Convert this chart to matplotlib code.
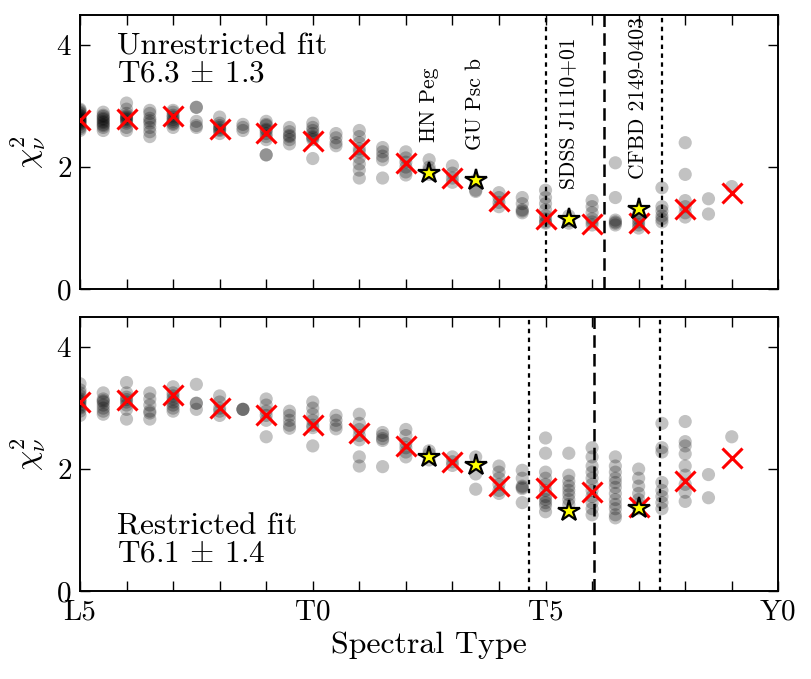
import numpy as np
import matplotlib
matplotlib.use("Agg")
import matplotlib.pyplot as plt
from matplotlib.ticker import MultipleLocator, FuncFormatter

plt.rcParams['font.family'] = 'serif'
plt.rcParams['font.serif'] = ['cmr10']
plt.rcParams['mathtext.fontset'] = 'cm'
plt.rcParams['axes.unicode_minus'] = False
plt.rcParams['axes.formatter.use_mathtext'] = True

# spectral type numeric: L5=15, T0=20, T5=25, Y0=30
spt_half = [15.0 + 0.5 * i for i in range(29)]

unres_vals = [
    [2.6, 2.63, 2.66, 2.7, 2.72, 2.74, 2.75, 2.77, 2.78, 2.8, 2.82, 2.84, 2.85, 2.88, 2.9, 2.93, 2.95],
    [2.6, 2.65, 2.68, 2.7, 2.73, 2.75, 2.78, 2.8, 2.83, 2.85, 2.9],
    [3.05, 2.95, 2.88, 2.84, 2.82, 2.8, 2.78, 2.75, 2.72, 2.65, 2.6],
    [2.5, 2.58, 2.65, 2.72, 2.76, 2.8, 2.88, 2.93],
    [2.65, 2.7, 2.72, 2.75, 2.78, 2.82, 2.85, 2.9, 2.93],
    [2.98, 2.98, 2.75, 2.68, 2.65],
    [2.82, 2.72, 2.68, 2.65, 2.62, 2.6, 2.55],
    [2.7, 2.65, 2.6],
    [2.75, 2.7, 2.68, 2.62, 2.6, 2.55, 2.5, 2.45, 2.2, 2.2],
    [2.65, 2.58, 2.52, 2.5, 2.45, 2.38],
    [2.72, 2.65, 2.6, 2.55, 2.5, 2.48, 2.45, 2.14],
    [2.55, 2.48, 2.4, 2.35],
    [2.6, 2.5, 2.4, 2.3, 2.25, 2.15, 2.05, 1.95, 1.82],
    [2.32, 2.25, 2.18, 2.12, 1.82],
    [2.25, 2.15, 2.08, 2.0, 1.92, 1.87],
    [2.12, 2.0, 1.95, 1.88],
    [2.02, 1.9, 1.82, 1.75],
    [1.78, 1.6, 1.62],
    [1.58, 1.5, 1.42, 1.35],
    [1.5, 1.4, 1.3, 1.28, 1.25],
    [1.62, 1.5, 1.4, 1.3, 1.2, 1.15, 1.1, 1.08],
    [1.2, 1.12, 1.08],
    [1.45, 1.35, 1.25, 1.15, 1.1, 1.05],
    [2.07, 1.5, 1.13, 1.1, 1.08, 1.05],
    [1.25, 1.15, 1.1, 1.05, 1.0],
    [1.66, 1.35, 1.28, 1.2, 1.15, 1.1],
    [2.4, 1.88, 1.45, 1.35, 1.25, 1.18],
    [1.48, 1.23],
    [1.68],
]

restr_vals = [
    [3.4, 3.3, 3.25, 3.2, 3.15, 3.12, 3.1, 3.05, 3.02, 3.0, 2.95, 2.88],
    [3.25, 3.15, 3.12, 3.1, 3.05, 3.0, 2.95, 2.9],
    [3.42, 3.25, 3.18, 3.14, 3.1, 3.05, 2.98, 2.82],
    [3.25, 3.15, 3.05, 2.95, 2.92, 2.82],
    [3.35, 3.25, 3.2, 3.15, 3.1, 3.05, 3.0, 2.95],
    [3.39, 3.08, 3.08, 2.98],
    [3.2, 3.1, 3.0, 2.95, 2.88],
    [2.98, 2.98, 2.98],
    [3.15, 3.05, 2.95, 2.88, 2.8, 2.53],
    [2.95, 2.88, 2.8, 2.72, 2.67],
    [3.1, 3.0, 2.9, 2.8, 2.72, 2.68, 2.38],
    [2.88, 2.8, 2.72, 2.66],
    [2.9, 2.75, 2.65, 2.55, 2.48, 2.2, 2.05],
    [2.6, 2.55, 2.5, 2.47, 2.04],
    [2.65, 2.55, 2.42, 2.35, 2.28, 2.2],
    [2.3, 2.25, 2.15],
    [2.2, 2.12, 2.06],
    [2.2, 1.92, 1.67],
    [2.05, 1.95, 1.85, 1.75, 1.65, 1.6],
    [1.98, 1.85, 1.72, 1.7, 1.68, 1.45],
    [2.51, 2.26, 1.95, 1.85, 1.75, 1.65, 1.55, 1.5, 1.45, 1.4, 1.3],
    [2.26, 1.9, 1.8, 1.72, 1.65, 1.58, 1.5, 1.42],
    [2.35, 2.2, 2.05, 1.95, 1.85, 1.75, 1.65, 1.55, 1.45, 1.35, 1.25],
    [2.2, 2.05, 1.95, 1.85, 1.78, 1.7, 1.6, 1.5, 1.42, 1.35, 1.25, 1.2],
    [2.0, 1.85, 1.72, 1.6, 1.5, 1.42, 1.35],
    [2.75, 2.35, 2.28, 1.78, 1.65, 1.55, 1.45, 1.35],
    [2.78, 2.45, 2.38, 2.25, 2.05, 1.9, 1.75, 1.62, 1.47],
    [1.91, 1.53],
    [2.53],
]

spt_int = list(range(15, 30))
unres_median = [2.77, 2.79, 2.83, 2.63, 2.56, 2.43, 2.29, 2.06, 1.82, 1.44,
                1.14, 1.06, 1.09, 1.32, 1.58]
restr_median = [3.10, 3.13, 3.22, 3.00, 2.89, 2.73, 2.60, 2.38, 2.11, 1.72,
                1.69, 1.62, 1.38, 1.81, 2.19]

star_names = ['HN Peg', 'GU Psc b', 'SDSS J1110+01', 'CFBD 2149-0403']
star_spt = [22.5, 23.5, 25.5, 27.0]
star_unres = [1.91, 1.78, 1.14, 1.31]
star_restr = [2.20, 2.06, 1.32, 1.36]

unres_fit = (25.0, 26.25, 27.5)
restr_fit = (24.65, 26.05, 27.45)

tick_names = {15: 'L5', 20: 'T0', 25: 'T5', 30: 'Y0'}

fig = plt.figure(figsize=(8.11, 6.79), dpi=100)
ax1 = fig.add_axes([0.0986, 0.5744, 0.8611, 0.4040])
ax2 = fig.add_axes([0.0986, 0.1296, 0.8611, 0.4040])

def draw(ax, vals, med, stars, fit, label, text_y, text_va):
    xs, ys = [], []
    for s, v in zip(spt_half, vals):
        xs += [s] * len(v)
        ys += v
    ax.scatter(xs, ys, s=90, color='black', alpha=0.24, edgecolors='none', zorder=2)
    ax.plot(spt_int, med, 'x', color='red', ms=15, mew=2.2, zorder=3)
    ax.plot(star_spt, stars, '*', mfc='yellow', mec='black', ms=16, mew=1.6, zorder=4)
    ax.axvline(fit[0], color='black', ls=(0, (2, 2)), lw=1.6, zorder=1)
    ax.axvline(fit[1], color='black', ls=(0, (5, 2.5)), lw=1.8, zorder=1)
    ax.axvline(fit[2], color='black', ls=(0, (2, 2)), lw=1.6, zorder=1)
    ax.set_xlim(15, 30)
    ax.set_ylim(0, 4.5)
    ax.xaxis.set_major_locator(MultipleLocator(1))
    ax.yaxis.set_major_locator(MultipleLocator(2))
    ax.tick_params(direction='in', top=True, right=True, length=7, width=1.0,
                   labelsize=21, pad=6)
    ax.set_ylabel(r'$\chi^2_\nu$', fontsize=23, labelpad=6)
    for sp in ax.spines.values():
        sp.set_linewidth(1.4)
    ax.text(0.053, text_y, label, transform=ax.transAxes, fontsize=22.5,
            va=text_va, ha='left', linespacing=0.95)

draw(ax1, unres_vals, unres_median, star_unres, unres_fit,
     'Unrestricted fit\nT6.3 $\\pm$ 1.3', 0.935, 'top')
draw(ax2, restr_vals, restr_median, star_restr, restr_fit,
     'Restricted fit\nT6.1 $\\pm$ 1.4', 0.085, 'bottom')

for name, s, y in zip(star_names, star_spt, star_unres):
    ax1.text(s, y + 0.5, name, rotation=90, ha='center', va='bottom', fontsize=15.5)

ax1.xaxis.set_major_formatter(FuncFormatter(lambda v, p: ''))
ax2.xaxis.set_major_formatter(FuncFormatter(lambda v, p: tick_names.get(int(round(v)), '')))
ax2.set_xlabel('Spectral Type', fontsize=23, labelpad=4)

fig.savefig('out.png', dpi=100)
